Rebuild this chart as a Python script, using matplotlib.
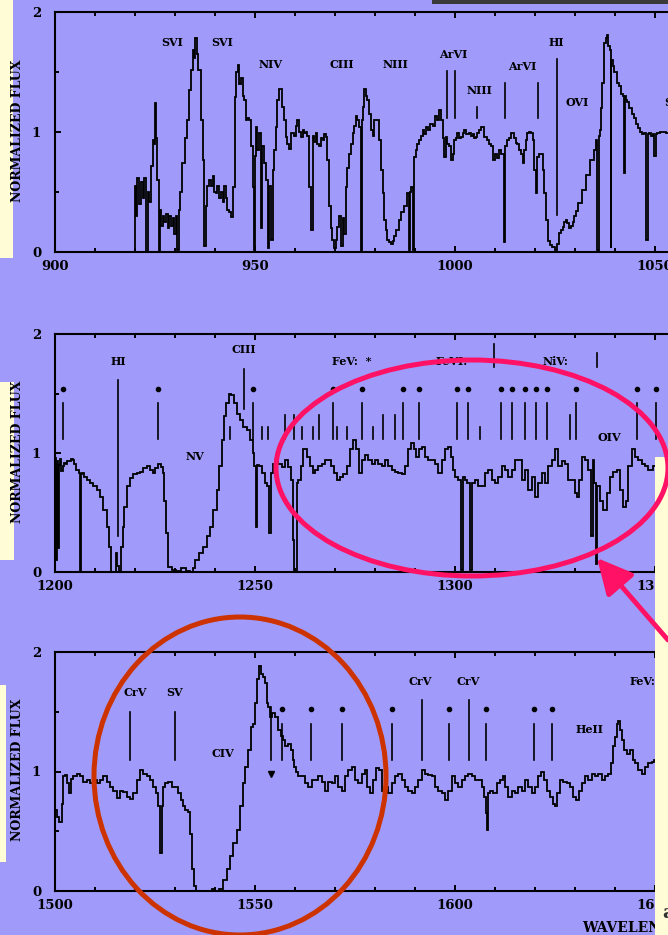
import matplotlib
matplotlib.use("Agg")
import matplotlib.pyplot as plt
from matplotlib.patches import Rectangle, Ellipse, FancyArrowPatch
from matplotlib.ticker import MultipleLocator, FormatStrFormatter

plt.rcParams['font.family'] = ['DejaVu Serif']
plt.rcParams['font.weight'] = 'bold'

# ---------------- data ----------------
P1_SPEC = [(919.9, 0.0), (920.0, 0.55), (920.4, 0.3), (920.8, 0.62), (921.2, 0.4), (921.7, 0.58), (922.1, 0.45),
           (922.5, 0.62), (923.1, 0.0), (923.3, 0.5), (923.75, 0.42), (924.2, 0.72), (924.6, 0.93), (925.0, 0.9),
           (925.2, 1.24), (925.4, 0.95), (925.8, 0.6), (926.1, 0.0), (926.3, 0.35), (926.7, 0.22), (927.1, 0.3),
           (927.5, 0.25), (928.0, 0.32), (928.4, 0.2), (928.8, 0.3), (929.2, 0.22), (929.6, 0.28), (930.0, 0.15),
           (930.4, 0.3), (930.8, 0.02), (931.0, 0.35), (931.5, 0.5), (932.1, 0.74), (932.7, 0.95), (933.3, 1.1),
           (933.8, 1.35), (934.2, 1.52), (934.6, 1.68), (935.0, 1.62), (935.25, 1.78), (935.6, 1.65), (936.1, 1.52),
           (936.7, 1.1), (937.1, 0.77), (937.5, 0.05), (937.9, 0.38), (938.3, 0.55), (938.75, 0.6), (939.2, 0.55),
           (939.6, 0.63), (940.0, 0.5), (940.4, 0.49), (940.8, 0.55), (941.25, 0.45), (941.7, 0.5), (942.1, 0.42),
           (942.5, 0.55), (942.9, 0.45), (943.3, 0.35), (943.75, 0.33), (944.2, 0.29), (944.75, 0.54), (945.25, 1.29),
           (945.5, 1.5), (945.8, 1.56), (946.2, 1.4), (946.7, 1.45), (947.1, 1.3), (947.5, 1.27), (947.9, 1.1),
           (948.3, 1.12), (948.75, 1.1), (949.2, 0.88), (949.6, 0.54), (949.9, 0.02), (950.1, 0.8), (950.4, 1.04),
           (950.8, 0.85), (951.25, 0.99), (951.6, 0.2), (951.9, 0.88), (952.5, 0.74), (953.1, 0.6), (953.4, 0.03),
           (953.6, 0.55), (954.2, 0.1), (954.6, 0.68), (955.0, 0.85), (955.4, 1.04), (955.8, 1.27), (956.4, 1.36),
           (956.9, 1.21), (957.5, 1.1), (957.9, 0.96), (958.3, 0.9), (958.75, 0.86), (959.4, 0.99), (960.0, 0.97),
           (960.4, 1.05), (960.8, 1.1), (961.25, 1.0), (961.7, 0.96), (962.1, 1.02), (962.5, 0.99), (962.9, 1.0),
           (963.3, 0.97), (963.75, 0.54), (964.2, 0.18), (964.6, 0.97), (965.0, 0.92), (965.4, 0.99), (965.8, 0.9),
           (966.25, 0.88), (966.7, 0.95), (967.1, 0.93), (967.5, 0.98), (967.9, 0.96), (968.3, 0.77), (968.75, 0.38),
           (969.1, 0.2), (969.4, 0.1), (970.0, 0.03), (970.4, 0.1), (970.8, 0.21), (971.25, 0.3), (971.7, 0.05),
           (972.1, 0.28), (972.5, 0.15), (972.9, 0.54), (973.3, 0.7), (973.75, 0.82), (974.2, 0.9), (974.6, 0.99),
           (975.0, 1.05), (975.4, 1.13), (975.8, 1.1), (976.25, 1.04), (976.7, 0.0), (976.9, 1.1), (977.1, 1.21),
           (977.5, 1.36), (977.9, 1.3), (978.3, 1.27), (978.75, 1.15), (979.2, 1.02), (979.6, 0.97), (980.0, 1.1),
           (980.6, 1.1), (981.25, 0.93), (981.7, 0.68), (982.1, 0.49), (982.5, 0.27), (982.9, 0.18), (983.3, 0.1),
           (983.75, 0.08), (984.2, 0.07), (984.6, 0.09), (985.0, 0.13), (985.6, 0.18), (986.25, 0.27), (986.9, 0.33),
           (987.5, 0.38), (988.3, 0.49), (988.75, 0.02), (989.0, 0.5), (989.2, 0.54), (989.6, 0.02), (990.0, 0.79),
           (990.4, 0.85), (990.8, 0.9), (991.25, 0.93), (991.7, 0.97), (992.1, 1.02), (992.5, 0.98), (992.9, 1.04),
           (993.5, 1.02), (994.2, 1.07), (994.8, 1.05), (995.4, 1.13), (995.8, 1.1), (996.25, 1.18), (996.7, 1.1),
           (997.1, 0.95), (997.5, 0.79), (997.9, 0.96), (998.3, 0.9), (998.75, 0.88), (999.2, 0.77), (999.6, 0.82),
           (1000.0, 0.93), (1000.4, 0.95), (1000.8, 0.99), (1001.25, 0.95), (1001.7, 0.96), (1002.1, 0.99),
           (1002.5, 1.02), (1003.1, 0.98), (1003.75, 0.99), (1004.2, 0.97), (1004.6, 0.98), (1005.0, 0.95),
           (1005.4, 0.96), (1005.8, 0.99), (1006.25, 1.02), (1006.9, 1.04), (1007.5, 0.96), (1008.3, 0.93),
           (1008.75, 0.9), (1009.2, 0.88), (1009.75, 0.77), (1010.4, 0.82), (1010.8, 0.78), (1011.25, 0.85),
           (1011.7, 0.82), (1012.1, 0.82), (1012.3, 0.08), (1012.7, 0.88), (1013.3, 0.93), (1013.75, 0.95),
           (1014.2, 0.99), (1014.6, 0.99), (1015.0, 0.95), (1015.4, 0.91), (1015.8, 0.9), (1016.25, 0.85),
           (1016.7, 0.82), (1017.1, 0.74), (1017.5, 0.85), (1017.9, 0.93), (1018.3, 0.99), (1018.75, 1.0),
           (1019.2, 0.99), (1019.6, 0.93), (1020.0, 0.68), (1020.4, 0.49), (1020.8, 0.79), (1021.25, 0.82),
           (1021.7, 0.82), (1022.1, 0.68), (1022.5, 0.49), (1022.9, 0.27), (1023.6, 0.09), (1024.1, 0.06),
           (1024.6, 0.04), (1025.25, 0.02), (1025.8, 0.07), (1026.25, 0.16), (1026.7, 0.18), (1027.1, 0.21),
           (1027.5, 0.25), (1027.9, 0.27), (1028.3, 0.24), (1028.75, 0.2), (1029.2, 0.22), (1029.6, 0.25),
           (1030.0, 0.3), (1030.4, 0.34), (1031.25, 0.41), (1032.2, 0.52), (1033.2, 0.64), (1034.3, 0.77),
           (1035.0, 0.85), (1035.4, 0.93), (1035.7, 0.02), (1036.0, 0.0), (1036.2, 0.97), (1036.4, 1.02),
           (1036.7, 1.2), (1037.0, 1.41), (1037.5, 1.74), (1037.9, 1.78), (1038.25, 1.81), (1038.5, 1.72),
           (1038.8, 1.68), (1039.0, 0.03), (1039.2, 1.6), (1039.6, 1.55), (1040.1, 1.5), (1040.7, 1.41),
           (1041.2, 1.38), (1041.8, 1.32), (1042.1, 1.3), (1042.3, 0.66), (1042.5, 1.3), (1042.8, 1.27),
           (1043.3, 1.25), (1043.9, 1.2), (1044.4, 1.15), (1044.9, 1.12), (1045.5, 1.07), (1046.0, 1.03),
           (1046.6, 1.0), (1047.1, 0.98), (1047.6, 0.99), (1048.0, 0.1), (1048.3, 0.98), (1048.7, 0.99),
           (1049.2, 0.97), (1049.75, 0.98), (1050.0, 0.8), (1050.3, 0.98), (1050.8, 0.99), (1051.5, 1.0),
           (1052.4, 1.0), (1053.3, 0.99)]

P2_SPEC = [(1200.0, 0.0), (1200.2, 0.96), (1200.4, 0.1), (1200.6, 0.93), (1200.8, 0.2), (1201.1, 0.9),
           (1201.25, 0.95), (1201.7, 0.85), (1202.1, 0.89), (1202.5, 0.92), (1202.9, 0.91), (1203.3, 0.93),
           (1203.75, 0.93), (1204.2, 0.95), (1204.6, 0.94), (1205.0, 0.91), (1205.6, 0.86), (1206.25, 0.83),
           (1206.4, 0.0), (1206.6, 0.82), (1206.8, 0.83), (1207.5, 0.8), (1208.3, 0.77), (1209.2, 0.75),
           (1210.0, 0.72), (1210.8, 0.69), (1211.7, 0.63), (1212.5, 0.52), (1213.3, 0.38), (1213.75, 0.21),
           (1214.3, 0.0), (1215.0, 0.0), (1215.4, 0.16), (1215.8, 0.05), (1216.25, 0.0), (1216.7, 0.21),
           (1217.1, 0.38), (1217.5, 0.55), (1218.3, 0.72), (1219.2, 0.79), (1220.0, 0.82), (1220.8, 0.83),
           (1221.7, 0.84), (1222.5, 0.87), (1223.3, 0.89), (1224.2, 0.86), (1224.6, 0.83), (1225.4, 0.87),
           (1226.25, 0.91), (1226.7, 0.88), (1227.1, 0.83), (1227.5, 0.6), (1227.9, 0.33), (1228.75, 0.04),
           (1229.6, 0.02), (1230.8, 0.01), (1232.1, 0.03), (1233.3, 0.01), (1234.2, 0.0), (1234.6, 0.03),
           (1235.4, 0.1), (1236.7, 0.16), (1237.5, 0.21), (1238.3, 0.3), (1239.2, 0.38), (1240.0, 0.52),
           (1240.8, 0.69), (1241.4, 0.89), (1241.9, 1.11), (1242.5, 1.31), (1243.1, 1.42), (1243.75, 1.5),
           (1244.4, 1.49), (1245.0, 1.42), (1245.8, 1.33), (1246.7, 1.28), (1247.5, 1.22), (1248.3, 1.19),
           (1249.2, 1.11), (1249.6, 1.0), (1250.0, 0.89), (1250.4, 0.38), (1250.8, 0.9), (1251.4, 0.89),
           (1252.1, 0.83), (1252.75, 0.75), (1253.3, 0.72), (1253.75, 0.33), (1254.2, 0.83), (1254.75, 0.91),
           (1255.4, 0.94), (1256.25, 0.91), (1257.1, 0.88), (1257.9, 0.94), (1258.75, 0.88), (1259.2, 0.77),
           (1259.6, 0.27), (1260.0, 0.0), (1260.25, 0.0), (1260.6, 0.75), (1261.1, 0.77), (1261.7, 0.89),
           (1262.5, 1.03), (1263.3, 0.97), (1264.2, 0.89), (1264.6, 0.83), (1265.4, 0.86), (1266.25, 0.89),
           (1267.1, 0.91), (1267.9, 0.94), (1268.75, 0.94), (1269.4, 0.89), (1270.0, 0.83), (1270.8, 0.77),
           (1271.7, 0.8), (1272.5, 0.82), (1273.3, 0.89), (1274.2, 1.03), (1275.0, 1.11), (1275.6, 1.03),
           (1276.25, 0.83), (1277.1, 0.94), (1277.9, 0.98), (1278.75, 0.94), (1279.6, 0.91), (1280.4, 0.94),
           (1281.25, 0.91), (1282.1, 0.89), (1282.9, 0.94), (1283.75, 0.89), (1284.6, 0.86), (1285.4, 0.84),
           (1286.25, 0.83), (1287.1, 0.82), (1287.9, 0.89), (1288.75, 1.03), (1289.4, 1.08), (1290.0, 1.03),
           (1290.6, 0.97), (1291.25, 1.03), (1292.1, 1.05), (1292.9, 0.97), (1293.75, 0.94), (1294.6, 0.94),
           (1295.4, 0.91), (1296.25, 0.83), (1297.1, 0.94), (1297.9, 1.03), (1298.6, 1.05), (1299.2, 0.97),
           (1299.6, 0.86), (1300.4, 0.8), (1301.25, 0.77), (1301.9, 0.02), (1302.25, 0.8), (1302.9, 0.77),
           (1303.3, 0.75), (1304.0, 0.02), (1304.4, 0.75), (1305.4, 0.77), (1306.25, 0.72), (1307.1, 0.72),
           (1307.9, 0.83), (1308.75, 0.86), (1309.6, 0.77), (1310.4, 0.75), (1311.25, 0.8), (1312.1, 0.89),
           (1312.9, 0.86), (1313.75, 0.8), (1314.6, 0.86), (1315.4, 0.94), (1316.25, 0.94), (1317.1, 0.77),
           (1317.9, 0.86), (1318.75, 0.69), (1319.6, 0.8), (1320.4, 0.63), (1321.25, 0.75), (1322.1, 0.83),
           (1322.9, 0.75), (1323.75, 0.89), (1324.6, 0.94), (1325.4, 1.03), (1326.25, 0.89), (1327.1, 0.93),
           (1327.9, 0.91), (1328.75, 0.77), (1329.6, 0.77), (1330.4, 0.66), (1330.8, 0.63), (1331.25, 0.77),
           (1332.1, 0.97), (1332.9, 0.94), (1333.75, 0.86), (1334.2, 0.3), (1334.6, 0.94), (1335.0, 0.75),
           (1335.4, 0.07), (1335.8, 0.72), (1336.7, 0.6), (1337.5, 0.52), (1338.3, 0.66), (1339.2, 0.8),
           (1340.0, 0.84), (1340.8, 0.86), (1341.7, 0.69), (1342.5, 0.55), (1342.9, 0.6), (1343.75, 0.89),
           (1344.6, 1.03), (1345.4, 0.97), (1346.25, 0.94), (1347.1, 0.91), (1347.9, 0.89), (1348.75, 0.86),
           (1350.0, 0.89), (1351.0, 0.87), (1353.3, 0.88)]

P3_SPEC = [(1500.0, 0.68), (1500.8, 0.62), (1501.4, 0.58), (1501.9, 0.73), (1502.25, 0.96), (1502.9, 0.97),
           (1503.3, 0.9), (1503.75, 0.82), (1504.2, 0.94), (1505.0, 0.96), (1505.8, 0.98), (1506.7, 0.96),
           (1507.5, 0.91), (1508.3, 0.93), (1509.2, 0.9), (1510.0, 0.93), (1510.8, 0.9), (1511.7, 0.93),
           (1512.5, 0.96), (1513.3, 0.91), (1514.2, 0.87), (1515.0, 0.84), (1515.8, 0.78), (1516.7, 0.84),
           (1517.5, 0.83), (1518.3, 0.79), (1519.2, 0.77), (1520.0, 0.82), (1520.8, 0.93), (1521.7, 1.01),
           (1522.5, 0.98), (1523.3, 0.96), (1524.2, 0.93), (1525.0, 0.87), (1525.6, 0.82), (1526.1, 0.71),
           (1526.5, 0.32), (1526.8, 0.71), (1527.25, 0.87), (1527.9, 0.9), (1528.75, 0.91), (1529.6, 0.87),
           (1530.4, 0.87), (1531.1, 0.82), (1531.7, 0.76), (1532.25, 0.71), (1532.9, 0.68), (1533.6, 0.66),
           (1533.9, 0.48), (1534.4, 0.18), (1535.0, 0.04), (1535.4, 0.0), (1537.1, 0.0), (1538.75, 0.0),
           (1539.6, 0.02), (1540.4, 0.0), (1541.7, 0.02), (1542.5, 0.09), (1543.3, 0.18), (1544.2, 0.29),
           (1545.0, 0.4), (1545.8, 0.51), (1546.7, 0.71), (1547.25, 0.9), (1547.9, 1.04), (1548.6, 1.18),
           (1549.2, 1.37), (1549.75, 1.4), (1550.25, 1.57), (1550.8, 1.77), (1551.25, 1.88), (1551.8, 1.82),
           (1552.3, 1.79), (1552.75, 1.74), (1553.1, 1.57), (1553.5, 1.54), (1554.0, 1.46), (1554.6, 1.49),
           (1555.4, 1.46), (1556.25, 1.35), (1556.7, 1.3), (1557.25, 1.26), (1557.9, 1.21), (1558.6, 1.23),
           (1559.2, 1.18), (1559.6, 1.1), (1560.0, 1.04), (1560.4, 1.0), (1561.25, 0.96), (1562.1, 0.96),
           (1562.9, 0.9), (1563.75, 0.87), (1564.6, 0.93), (1565.4, 0.93), (1566.25, 0.96), (1567.1, 0.91),
           (1567.9, 0.84), (1568.75, 0.91), (1569.6, 0.9), (1570.4, 0.96), (1571.25, 0.87), (1572.1, 0.84),
           (1572.9, 0.96), (1573.75, 1.01), (1574.6, 1.04), (1575.4, 0.93), (1576.25, 0.9), (1577.1, 0.98),
           (1577.75, 1.01), (1578.3, 0.87), (1579.2, 0.82), (1580.0, 0.93), (1580.6, 1.03), (1581.25, 1.01),
           (1582.1, 0.84), (1582.9, 0.87), (1583.75, 0.82), (1584.6, 0.9), (1585.4, 0.96), (1586.25, 0.98),
           (1587.1, 0.93), (1587.9, 0.87), (1588.75, 0.84), (1589.6, 0.82), (1590.4, 0.87), (1591.25, 0.93),
           (1592.1, 1.01), (1592.9, 0.98), (1593.75, 0.97), (1594.6, 0.96), (1595.4, 0.87), (1596.25, 0.84),
           (1597.1, 0.82), (1597.9, 0.76), (1598.75, 0.84), (1599.6, 0.96), (1600.4, 0.9), (1601.25, 0.87),
           (1602.1, 0.93), (1602.9, 0.96), (1603.75, 0.98), (1604.6, 0.96), (1605.4, 0.93), (1606.25, 0.93),
           (1607.1, 0.87), (1607.5, 0.79), (1607.9, 0.65), (1608.2, 0.51), (1608.5, 0.82), (1609.2, 0.84),
           (1610.0, 0.82), (1610.8, 0.9), (1611.7, 0.93), (1612.25, 0.96), (1612.9, 0.87), (1613.75, 0.79),
           (1614.6, 0.84), (1615.4, 0.82), (1616.25, 0.87), (1617.1, 0.84), (1617.9, 0.93), (1618.75, 0.87),
           (1619.6, 0.82), (1620.4, 0.87), (1621.25, 0.96), (1621.9, 1.0), (1622.5, 0.93), (1623.3, 0.84),
           (1624.2, 0.79), (1624.75, 0.73), (1625.25, 0.71), (1625.8, 0.82), (1626.7, 0.93), (1627.5, 0.91),
           (1628.3, 0.9), (1629.2, 0.87), (1630.0, 0.79), (1630.6, 0.76), (1631.25, 0.84), (1632.1, 0.9),
           (1632.9, 0.96), (1633.75, 0.93), (1634.6, 0.98), (1635.4, 0.96), (1636.25, 0.98), (1637.1, 0.93),
           (1637.9, 0.96), (1638.75, 0.98), (1639.4, 1.07), (1639.8, 1.21), (1640.25, 1.29), (1640.6, 1.4),
           (1641.0, 1.42), (1641.4, 1.35), (1641.9, 1.26), (1642.5, 1.18), (1643.3, 1.15), (1644.2, 1.18),
           (1644.75, 1.1), (1645.4, 1.07), (1646.25, 1.01), (1647.1, 0.98), (1647.9, 1.04), (1648.75, 1.07),
           (1649.6, 1.08), (1650.0, 1.1), (1651.5, 1.1), (1653.3, 1.1)]

# line identifications: (text, wavelength, flux, horizontal alignment)
P1_LABELS = [("SVI", 929.25, 1.75, "center"), ("SVI", 941.75, 1.75, "center"), ("NIV", 954.0, 1.56, "center"),
             ("CIII", 971.75, 1.56, "center"), ("NIII", 985.0, 1.56, "center"), ("ArVI", 999.6, 1.65, "center"),
             ("NIII", 1006.1, 1.35, "center"), ("ArVI", 1016.75, 1.55, "center"), ("HI", 1025.4, 1.75, "center"),
             ("OVI", 1030.5, 1.25, "center"), ("SVI", 1052.4, 1.25, "left")]
P2_LABELS = [("HI", 1215.85, 1.77, "center"), ("CIII", 1247.25, 1.87, "center"), ("NV", 1234.9, 0.97, "center"),
             ("FeV:  *", 1269.3, 1.77, "left"), ("FeVI:", 1295.1, 1.77, "left"), ("NiV:", 1322.0, 1.77, "left"),
             ("OIV", 1338.5, 1.13, "center")]
P3_LABELS = [("CrV", 1520.0, 1.66, "center"), ("SV", 1529.9, 1.66, "center"), ("CIV", 1541.9, 1.15, "center"),
             ("CrV", 1591.25, 1.75, "center"), ("CrV", 1603.3, 1.75, "center"), ("HeII", 1633.75, 1.35, "center"),
             ("FeV:", 1643.75, 1.75, "left")]

# marker lines: (wavelength, top, bottom)
P1_LINES = [(998.1, 1.51, 1.12), (999.9, 1.51, 1.12), (1005.5, 1.21, 1.12), (1012.4, 1.41, 1.12),
            (1020.7, 1.41, 1.12), (1025.4, 1.61, 0.31)]
P2_LINES = [(1215.7, 1.61, 0.30), (1247.3, 1.71, 1.37), (1309.8, 1.92, 1.72), (1335.4, 1.84, 1.72),
            (1257.6, 1.32, 1.12), (1259.8, 1.32, 1.12), (1266.1, 1.32, 1.12), (1282.1, 1.32, 1.12),
            (1285.0, 1.32, 1.12), (1328.75, 1.32, 1.12),
            (1243.75, 1.22, 1.12), (1251.7, 1.22, 1.12), (1253.3, 1.22, 1.12), (1261.7, 1.22, 1.12),
            (1264.4, 1.22, 1.12), (1270.4, 1.22, 1.12), (1272.9, 1.22, 1.12), (1279.4, 1.22, 1.12),
            (1306.3, 1.22, 1.12)]
P2_DOTTED = [1202.0, 1225.65, 1249.6, 1269.5, 1276.85, 1286.9, 1291.0, 1300.4, 1303.35, 1311.55, 1314.2,
             1317.6, 1320.25, 1322.9, 1330.3, 1345.5, 1350.3]
P3_LINES = [(1518.75, 1.5, 1.1), (1530.1, 1.5, 1.1), (1553.9, 1.54, 1.1), (1591.7, 1.6, 1.1), (1603.4, 1.6, 1.1)]
P3_DOTTED = [1556.8, 1563.9, 1571.7, 1584.2, 1598.6, 1607.7, 1619.8, 1624.2]
P3_TRIANGLE = [(1553.9, 0.98)]

# ---------------- layout ----------------
W, H = 668, 935
BG = '#A09BFA'
YEL = '#FFFCD6'
PINK = '#FF1166'
RUST = '#CC3300'

fig = plt.figure(figsize=(W / 100, H / 100), dpi=100)
fig.patch.set_facecolor(BG)

bg = fig.add_axes([0, 0, 1, 1], zorder=0)
bg.set_xlim(0, W); bg.set_ylim(H, 0); bg.axis('off')
bg.add_patch(Rectangle((0, 0), 13, 258, color=YEL, lw=0))
bg.add_patch(Rectangle((0, 382), 14, 178, color=YEL, lw=0))
bg.add_patch(Rectangle((0, 685), 6, 177, color=YEL, lw=0))
bg.add_patch(Rectangle((432, 0), 236, 4, color='#3A3A3A', lw=0))
for yc in (131, 452, 770):
    bg.text(18, yc, 'NORMALIZED FLUX', rotation=90, ha='center', va='center', fontsize=9, fontweight='bold')


def make_panel(y_top, y_bot, x0, spec, labels, lines, dotted=None, dot_y=1.54, dot_top=1.42, dot_bot=1.12,
               tri=None):
    ax = fig.add_axes([55 / W, 1 - y_bot / H, (W - 55) / W, (y_bot - y_top) / H], zorder=1)
    ax.patch.set_alpha(0)
    ax.set_xlim(x0, x0 + (W - 55) / 4)
    ax.set_ylim(0, 2)
    wl = [p[0] for p in spec]
    fl = [p[1] for p in spec]
    ax.plot(wl, fl, color='black', lw=1.3, drawstyle='steps-mid', solid_joinstyle='miter')
    for w, top, bot in lines:
        ax.plot([w, w], [bot, top], color='black', lw=1.2)
    if dotted:
        for w in dotted:
            ax.plot([w, w], [dot_bot, dot_top], color='black', lw=1.2)
        ax.plot(dotted, [dot_y] * len(dotted), 'o', ms=3, color='black')
    if tri:
        ax.plot([t[0] for t in tri], [t[1] for t in tri], 'v', ms=4.5, color='black')
    for s, w, f, ha in labels:
        ax.text(w, f, s, ha=ha, va='center', fontsize=8, fontweight='bold', clip_on=False)
    ax.spines['right'].set_visible(False)
    for sp in ('top', 'bottom', 'left'):
        ax.spines[sp].set_linewidth(1.5)
    ax.xaxis.set_major_locator(MultipleLocator(50))
    ax.xaxis.set_minor_locator(MultipleLocator(10))
    ax.yaxis.set_major_locator(MultipleLocator(1))
    ax.yaxis.set_minor_locator(MultipleLocator(0.5))
    ax.xaxis.set_major_formatter(FormatStrFormatter('%d'))
    ax.yaxis.set_major_formatter(FormatStrFormatter('%d'))
    ax.tick_params(axis='x', which='both', direction='in', top=True, bottom=True, width=1.4)
    ax.tick_params(axis='x', which='major', length=4.5, pad=6, labelsize=9.5)
    ax.tick_params(axis='x', which='minor', length=3)
    ax.tick_params(axis='y', which='both', direction='in', left=True, right=False, width=1.4)
    ax.tick_params(axis='y', which='major', length=4.5, pad=10, labelsize=9.5)
    ax.tick_params(axis='y', which='minor', length=3)
    return ax


make_panel(12, 252, 900, P1_SPEC, P1_LABELS, P1_LINES)
make_panel(334, 572, 1200, P2_SPEC, P2_LABELS, P2_LINES, dotted=P2_DOTTED)
make_panel(652, 891, 1500, P3_SPEC, P3_LABELS, P3_LINES, dotted=P3_DOTTED, dot_y=1.52, dot_top=1.40,
           dot_bot=1.10, tri=P3_TRIANGLE)

fg = fig.add_axes([0, 0, 1, 1], zorder=5)
fg.set_xlim(0, W); fg.set_ylim(H, 0); fg.axis('off'); fg.patch.set_alpha(0)
fg.text(582, 928, 'WAVELENGTH', ha='left', va='center', fontsize=10, fontweight='bold', zorder=1)
fg.add_patch(Rectangle((655, 457), 13, H - 457, color=YEL, lw=0, zorder=2))
fg.add_patch(Ellipse((472, 468), 392, 216, fill=False, ec=PINK, lw=3.6, zorder=3))
fg.add_patch(Ellipse((240, 776), 292, 318, fill=False, ec=RUST, lw=3.6, zorder=3))
fg.add_patch(FancyArrowPatch((668, 640), (597, 558), arrowstyle='-|>,head_length=0.9,head_width=0.45',
                             mutation_scale=24, color=PINK, lw=3.5, shrinkA=0, shrinkB=0, zorder=4))
fg.text(662, 913, 'a', ha='left', va='center', fontsize=14, fontweight='bold', color='#333333', zorder=4)

fig.savefig('out.png', dpi=100, facecolor=BG)
